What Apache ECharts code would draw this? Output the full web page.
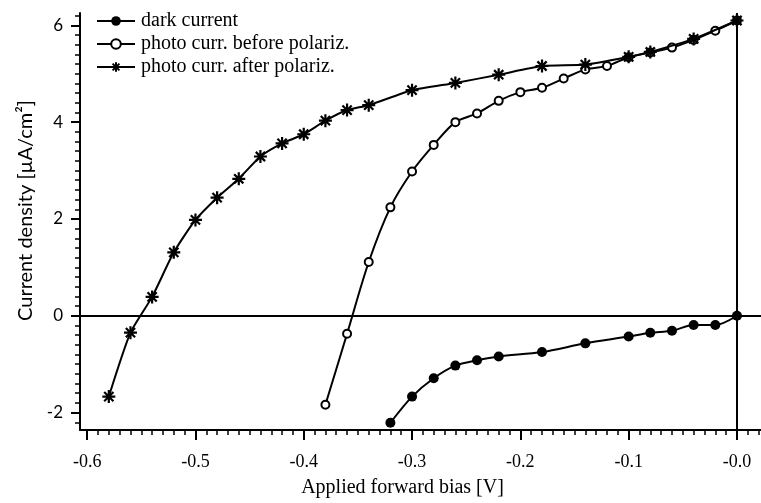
<!DOCTYPE html>
<html>
<head>
<meta charset="utf-8">
<script src="https://cdn.jsdelivr.net/npm/echarts@6/dist/echarts.min.js"></script>
<style>
  html, body { margin: 0; padding: 0; background: #fff; }
  #chart { width: 761px; height: 503px; }
</style>
</head>
<body>
<div id="chart"></div>
<script>
// Applied forward bias [V] and current density [µA/cm²] for each curve
const darkBias    = [-0.32, -0.30, -0.28, -0.26, -0.24, -0.22, -0.18, -0.14, -0.10, -0.08, -0.06, -0.04, -0.02, 0.00];
const darkCurrent = [-2.21, -1.67, -1.29, -1.03, -0.92, -0.84, -0.75, -0.57, -0.43, -0.35, -0.31, -0.19, -0.19, 0.00];

const beforeBias    = [-0.38, -0.36, -0.34, -0.32, -0.30, -0.28, -0.26, -0.24, -0.22, -0.20, -0.18, -0.16, -0.14, -0.12, -0.10, -0.08, -0.06, -0.04, -0.02, 0.00];
const beforeCurrent = [-1.84, -0.37, 1.11, 2.24, 2.98, 3.53, 4.00, 4.18, 4.44, 4.62, 4.71, 4.90, 5.09, 5.16, 5.34, 5.44, 5.54, 5.70, 5.89, 6.10];

const afterBias    = [-0.58, -0.56, -0.54, -0.52, -0.50, -0.48, -0.46, -0.44, -0.42, -0.40, -0.38, -0.36, -0.34, -0.30, -0.26, -0.22, -0.18, -0.14, -0.10, -0.08, -0.04, 0.00];
const afterCurrent = [-1.67, -0.35, 0.39, 1.31, 1.98, 2.44, 2.83, 3.29, 3.56, 3.75, 4.03, 4.25, 4.35, 4.66, 4.81, 4.98, 5.16, 5.19, 5.35, 5.45, 5.72, 6.10];

const seriesNames = ['dark current', 'photo curr. before polariz.', 'photo curr. after polariz.'];

// Tick positions
const xTickValues = [-0.6, -0.5, -0.4, -0.3, -0.2, -0.1, 0];
const yTickValues = [-2, 0, 2, 4, 6];
const xRange = [-0.6066, 0.0222];
const yRange = [-2.36, 6.255];

const xMinorTicks = [];
for (let i = -60; i <= 2; i++) xMinorTicks.push(i / 100);
const yMinorTicks = [];
for (let i = -11; i <= 31; i++) yMinorTicks.push(i / 5);

const pairs = (xs, ys) => xs.map((x, i) => [x, ys[i]]);

const starPath = 'path://M0,-10L0,10M-10,0L10,0M-7.1,-7.1L7.1,7.1M-7.1,7.1L7.1,-7.1';
const serifFont = '"Liberation Serif", "DejaVu Serif", serif';
const sansFont = 'Lato, "Open Sans", "DejaVu Sans", sans-serif';

const chart = echarts.init(document.getElementById('chart'), null, { renderer: 'canvas' });

const line = { color: '#000', width: 2 };

chart.setOption({
  backgroundColor: '#fff',
  animation: false,
  grid: { left: 80, right: 0, top: 13, bottom: 70, containLabel: false },
  legend: {
    orient: 'vertical',
    left: 91,
    top: 6,
    itemWidth: 38,
    itemHeight: 12,
    itemGap: 3,
    data: seriesNames,
    textStyle: { fontFamily: serifFont, fontSize: 20, color: '#000', padding: [0, 0, 0, 1] }
  },
  xAxis: [
    {
      type: 'value',
      min: xRange[0],
      max: xRange[1],
      name: 'Applied forward bias [V]',
      nameLocation: 'middle',
      nameGap: 48,
      nameTextStyle: { fontFamily: serifFont, fontSize: 20, color: '#000', padding: [0, 36, 0, 0] },
      axisLine: { onZero: false, lineStyle: { color: '#000', width: 2 } },
      axisTick: { show: true, length: 10, customValues: xTickValues, lineStyle: { color: '#000', width: 2 } },
      axisLabel: {
        customValues: xTickValues,
        margin: 23,
        fontFamily: serifFont,
        fontSize: 18,
        color: '#000',
        formatter: v => (Math.abs(v) < 1e-9 ? '-0.0' : v.toFixed(1))
      },
      splitLine: { show: false }
    },
    {
      type: 'value',
      min: xRange[0],
      max: xRange[1],
      position: 'bottom',
      axisLine: { show: false, onZero: false },
      axisTick: { show: true, length: 5, customValues: xMinorTicks, lineStyle: { color: '#000', width: 1.5 } },
      axisLabel: { show: false },
      splitLine: { show: false }
    }
  ],
  yAxis: [
    {
      type: 'value',
      min: yRange[0],
      max: yRange[1],
      name: 'Current density [µA/cm²]',
      nameLocation: 'middle',
      nameGap: 40,
      nameTextStyle: { fontFamily: sansFont, fontSize: 20, color: '#000', padding: [0, 0, 0, 22] },
      axisLine: { onZero: false, lineStyle: { color: '#000', width: 2 } },
      axisTick: { show: true, length: 9, customValues: yTickValues, lineStyle: { color: '#000', width: 2 } },
      axisLabel: {
        customValues: yTickValues,
        margin: 17,
        fontFamily: sansFont,
        fontSize: 17,
        color: '#000'
      },
      splitLine: { show: false }
    },
    {
      type: 'value',
      min: yRange[0],
      max: yRange[1],
      position: 'left',
      axisLine: { show: false, onZero: false },
      axisTick: { show: true, length: 5, customValues: yMinorTicks, lineStyle: { color: '#000', width: 1.5 } },
      axisLabel: { show: false },
      splitLine: { show: false }
    }
  ],
  series: [
    {
      name: seriesNames[0],
      type: 'line',
      data: pairs(darkBias, darkCurrent),
      smooth: 0.3,
      symbol: 'circle',
      symbolSize: 10,
      itemStyle: { color: '#000' },
      lineStyle: line,
      markLine: {
        silent: true,
        symbol: 'none',
        label: { show: false },
        lineStyle: { color: '#000', width: 2, type: 'solid' },
        data: [{ xAxis: 0 }, { yAxis: 0 }]
      },
      z: 3
    },
    {
      name: seriesNames[1],
      type: 'line',
      data: pairs(beforeBias, beforeCurrent),
      smooth: 0.3,
      symbol: 'emptyCircle',
      symbolSize: 8,
      itemStyle: { color: '#000', borderColor: '#000', borderWidth: 1.4 },
      lineStyle: line,
      z: 4
    },
    {
      name: seriesNames[2],
      type: 'line',
      data: pairs(afterBias, afterCurrent),
      smooth: 0.2,
      symbol: starPath,
      symbolSize: 13,
      itemStyle: { color: '#000', borderColor: '#000', borderWidth: 2.2 },
      lineStyle: line,
      z: 5
    }
  ]
});
</script>
</body>
</html>
